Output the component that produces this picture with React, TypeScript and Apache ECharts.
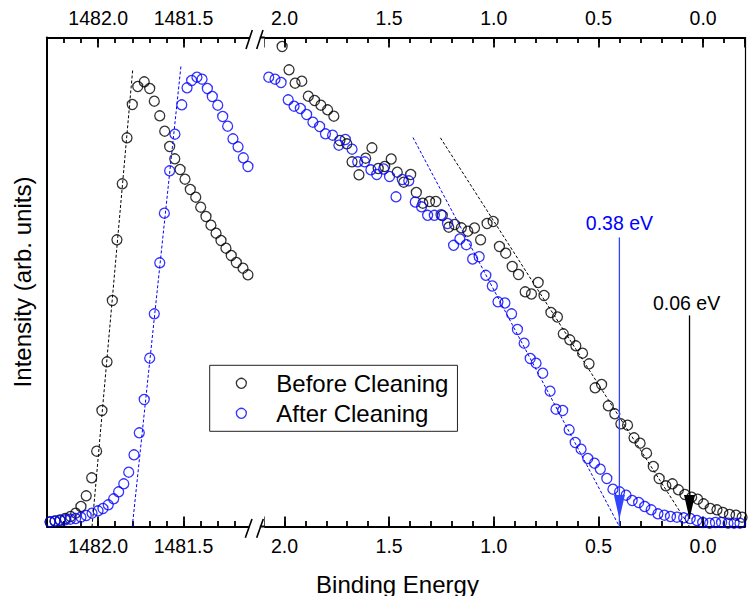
import React, { useEffect, useRef } from "react";
import * as echarts from "echarts";

const FONT = "'Liberation Sans', Arial, Helvetica, sans-serif";
const BLACK = "#000000";
const BLUE = "#0000ff";
const BLUE_ARROW = "#3344ff";

// ---- Left panel (photon-energy scale near 1482 eV) ----
const beforeCoreEnergy = [1482.282, 1482.253, 1482.224, 1482.193, 1482.162, 1482.132, 1482.101, 1482.07, 1482.038, 1482.009, 1481.978, 1481.948, 1481.917, 1481.89, 1481.859, 1481.831, 1481.8, 1481.768, 1481.73, 1481.698, 1481.671, 1481.639, 1481.61, 1481.581, 1481.551, 1481.52, 1481.491, 1481.46, 1481.428, 1481.399, 1481.368, 1481.339, 1481.309, 1481.28, 1481.251, 1481.22, 1481.19, 1481.151, 1481.122];
const beforeCoreIntensity = [4.5, 5.5, 6.5, 8, 10, 13.3, 20, 30.7, 48.7, 75.3, 116, 164.7, 226, 286.7, 342.7, 388.7, 422, 440, 444.7, 438, 425.3, 410.7, 395.3, 380, 367.7, 357, 347.3, 337, 329.3, 319.3, 310, 301.3, 293.3, 286, 278.3, 271, 264, 258.3, 251.7];

const afterCoreEnergy = [1482.281, 1482.253, 1482.222, 1482.193, 1482.163, 1482.132, 1482.101, 1482.07, 1482.036, 1482.001, 1481.972, 1481.941, 1481.909, 1481.88, 1481.85, 1481.821, 1481.79, 1481.759, 1481.73, 1481.698, 1481.671, 1481.639, 1481.612, 1481.581, 1481.55, 1481.51, 1481.479, 1481.452, 1481.421, 1481.391, 1481.36, 1481.331, 1481.299, 1481.27, 1481.241, 1481.21, 1481.18, 1481.149, 1481.122];
const afterCoreIntensity = [4.7, 5.3, 6, 6.7, 7.3, 8, 9.3, 11, 13.3, 15.7, 18, 21.7, 27.7, 34.7, 42.7, 54.3, 71.7, 93.7, 127, 168.3, 212.7, 263.7, 313.3, 355.7, 392.3, 421.7, 438.7, 446, 449.3, 447.3, 438, 430, 421.3, 410, 400.3, 387.7, 379.7, 368.7, 360];

// ---- Right panel (binding energy, eV) ----
const beforeValenceEnergy = [2.011, 1.978, 1.949, 1.917, 1.886, 1.856, 1.826, 1.794, 1.764, 1.735, 1.702, 1.677, 1.644, 1.612, 1.582, 1.552, 1.521, 1.49, 1.461, 1.43, 1.397, 1.37, 1.339, 1.307, 1.277, 1.246, 1.215, 1.187, 1.155, 1.124, 1.092, 1.063, 1.032, 1.003, 0.973, 0.943, 0.912, 0.882, 0.85, 0.82, 0.788, 0.76, 0.727, 0.696, 0.668, 0.637, 0.608, 0.576, 0.545, 0.516, 0.485, 0.453, 0.422, 0.393, 0.361, 0.33, 0.301, 0.27, 0.238, 0.21, 0.178, 0.147, 0.118, 0.087, 0.055, 0.026, -0.002, -0.034, -0.066, -0.094, -0.126, -0.157, -0.186];
const beforeValenceIntensity = [480, 456.7, 443.3, 445.3, 430.3, 426, 421.3, 416.7, 410.3, 386, 382.7, 364.7, 351.7, 368.3, 378.7, 358, 360, 367.5, 354.3, 344.3, 352, 334, 323.3, 325, 325, 311, 299.3, 302, 298.7, 295.3, 298.5, 286.7, 303, 305, 280, 273.3, 260, 252, 234.7, 232.5, 244, 231, 214, 209.5, 192.7, 186.7, 180.7, 173.3, 162.7, 138.7, 142, 120.7, 112.7, 102.7, 101.3, 88.7, 83.3, 73.3, 60, 48, 40.7, 42.7, 36.7, 32, 29.3, 27.3, 22.7, 18, 16.7, 14, 12, 11.3, 9.3];

const afterValenceEnergy = [2.075, 2.045, 2.016, 1.982, 1.954, 1.924, 1.894, 1.864, 1.832, 1.804, 1.77, 1.74, 1.709, 1.677, 1.65, 1.617, 1.587, 1.559, 1.526, 1.498, 1.467, 1.437, 1.406, 1.375, 1.345, 1.316, 1.284, 1.252, 1.221, 1.192, 1.162, 1.131, 1.101, 1.07, 1.038, 1.007, 0.98, 0.947, 0.915, 0.887, 0.855, 0.826, 0.798, 0.766, 0.731, 0.703, 0.671, 0.64, 0.611, 0.583, 0.551, 0.519, 0.491, 0.46, 0.431, 0.399, 0.368, 0.339, 0.308, 0.279, 0.248, 0.216, 0.185, 0.156, 0.125, 0.093, 0.062, 0.03, 0.002, -0.031, -0.059, -0.088, -0.119, -0.148, -0.176];
const afterValenceIntensity = [449.3, 447.3, 444, 426.7, 420.3, 418, 412, 404.3, 400, 392.7, 391.3, 381.3, 387, 377.3, 364.7, 364.7, 356.7, 352, 357.5, 350, 329.7, 347, 345.7, 324.5, 319.7, 311.2, 311.2, 311.8, 303, 281.2, 287.5, 281.8, 267.5, 269.8, 251.2, 240.5, 224.7, 223.5, 212.7, 197, 183.3, 168, 163.3, 153.3, 135.3, 117.3, 116, 96.7, 84, 77.3, 68, 63.3, 57.3, 48, 37.3, 34.7, 31.3, 26, 24, 20, 16.7, 12.7, 11.3, 10, 9.3, 8.7, 8, 6, 4, 3.3, 4, 4, 3.3, 3.3, 3.3];

// ---- Linear edge fits (end points) ----
const beforeCoreFitEnergy = [1481.798, 1482.036];
const beforeCoreFitIntensity = [456, 0];
const afterCoreFitEnergy = [1481.515, 1481.8];
const afterCoreFitIntensity = [460, 0];
const beforeValenceFitEnergy = [1.255, 0.065];
const beforeValenceFitIntensity = [388.7, 0];
const afterValenceFitEnergy = [1.386, 0.4];
const afterValenceFitIntensity = [389, 0];

// ---- Edge markers ----
const afterEdge = 0.4;
const afterEdgeLabel = "0.38 eV";
const afterMarkerIntensity = [289, 7.5, 0];
const beforeEdge = 0.065;
const beforeEdgeLabel = "0.06 eV";
const beforeMarkerIntensity = [211, 7.5];

const legendNames = ["Before Cleaning", "After Cleaning"];

const zip = (xs: number[], ys: number[]) => xs.map((x, i) => [x, ys[i]]);

const majorLabel = (v: number) =>
  Math.abs(v * 2 - Math.round(v * 2)) < 1e-6 ? v.toFixed(1) : "";

function xMajor(gridIndex: number, position: string, min: number, max: number, splitNumber: number) {
  return {
    type: "value",
    gridIndex,
    position,
    min,
    max,
    inverse: true,
    splitNumber,
    axisLine: { show: true, onZero: false, lineStyle: { color: BLACK, width: 2 } },
    axisTick: { show: true, inside: true, length: 10, lineStyle: { color: BLACK, width: 1.8 } },
    axisLabel: {
      show: true,
      formatter: majorLabel,
      fontSize: 19.5,
      color: BLACK,
      fontFamily: FONT,
      margin: position === "top" ? 10 : 9,
    },
    splitLine: { show: false },
  };
}

function xMinor(gridIndex: number, position: string, min: number, max: number) {
  return {
    type: "value",
    gridIndex,
    position,
    min,
    max,
    inverse: true,
    interval: 0.1,
    axisLine: { show: false, onZero: false },
    axisTick: { show: true, inside: true, length: 5.5, lineStyle: { color: BLACK, width: 1.8 } },
    axisLabel: { show: false },
    splitLine: { show: false },
  };
}

function yAxisDef(gridIndex: number, position: string, width: number, named: boolean) {
  return {
    type: "value",
    gridIndex,
    position,
    min: 0,
    max: 489,
    axisLine: { show: true, onZero: false, lineStyle: { color: BLACK, width } },
    axisTick: { show: false },
    axisLabel: { show: false },
    splitLine: { show: false },
    name: named ? "Intensity (arb. units)" : "",
    nameLocation: "middle",
    nameGap: 13,
    nameTextStyle: { fontSize: 24, color: BLACK, fontFamily: FONT },
  };
}

const hollow = (color: string) => ({ color: "rgba(0,0,0,0)", borderColor: color, borderWidth: 1.3 });

function scatter(name: string, xi: number, yi: number, xs: number[], ys: number[], color: string) {
  return {
    type: "scatter",
    name,
    xAxisIndex: xi,
    yAxisIndex: yi,
    data: zip(xs, ys),
    symbol: "circle",
    symbolSize: 10,
    itemStyle: hollow(color),
    silent: true,
    z: 3,
  };
}

function fitLine(xi: number, yi: number, xs: number[], ys: number[], color: string) {
  return {
    type: "line",
    xAxisIndex: xi,
    yAxisIndex: yi,
    data: zip(xs, ys),
    symbol: "none",
    lineStyle: { color, width: 1, type: [3, 2] },
    silent: true,
    z: 4,
  };
}

function marker(xi: number, x: number, ys: number[], color: string, textColor: string, text: string, dist: number, dx: number) {
  const data = ys.map((y, i) => {
    if (i === 0) {
      return {
        value: [x, y],
        symbol: "circle",
        symbolSize: 0.5,
        label: {
          show: true,
          position: "top",
          distance: dist,
          offset: [dx, 0],
          formatter: text,
          fontSize: 19.5,
          color: textColor,
          fontFamily: FONT,
        },
      };
    }
    if (i === 1) {
      return {
        value: [x, y],
        symbol: "triangle",
        symbolSize: [11, 24],
        symbolRotate: 180,
        symbolOffset: [0, -12],
      };
    }
    return { value: [x, y], symbol: "none" };
  });
  return {
    type: "line",
    xAxisIndex: xi,
    yAxisIndex: 1,
    data,
    lineStyle: { color, width: 1.3 },
    itemStyle: { color, borderWidth: 0 },
    silent: true,
    z: 5,
  };
}

export default function App() {
  const ref = useRef<HTMLDivElement>(null);

  useEffect(() => {
    document.body.style.margin = "0";
    if (!ref.current) return;
    const chart = echarts.init(ref.current, undefined, { renderer: "svg" });

    const breakX1 = 249.3;
    const breakX2 = 264.3;
    const topY = 37.5;
    const botY = 526.5;

    const slash = (x1: number, y1: number, x2: number, y2: number) => ({
      type: "line",
      shape: { x1, y1, x2, y2 },
      style: { stroke: BLACK, lineWidth: 1.6 },
      z: 102,
    });

    // xAxis indices: 0 L-bottom, 1 L-top, 2 L-bottom minor, 3 L-top minor,
    //                4 R-bottom, 5 R-top, 6 R-bottom minor, 7 R-top minor
    const LX = 0;
    const RX = 4;

    chart.setOption({
      animation: false,
      backgroundColor: "#ffffff",
      grid: [
        { left: 47, top: topY, width: 204.7, height: 489 },
        { left: 263.5, top: topY, width: 483.9, height: 489 },
      ],
      xAxis: [
        xMajor(0, "bottom", 1481.1, 1482.3, 2),
        xMajor(0, "top", 1481.1, 1482.3, 2),
        xMinor(0, "bottom", 1481.1, 1482.3),
        xMinor(0, "top", 1481.1, 1482.3),
        xMajor(1, "bottom", -0.2, 2.1, 5),
        xMajor(1, "top", -0.2, 2.1, 5),
        xMinor(1, "bottom", -0.2, 2.1),
        xMinor(1, "top", -0.2, 2.1),
      ],
      yAxis: [yAxisDef(0, "left", 2, true), yAxisDef(1, "right", 1.2, false)],
      legend: {
        data: [
          { name: legendNames[0], icon: "circle", itemStyle: hollow(BLACK) },
          { name: legendNames[1], icon: "circle", itemStyle: hollow(BLUE) },
        ],
        orient: "vertical",
        left: 209.7,
        top: 365.3,
        itemWidth: 10,
        itemHeight: 10,
        itemGap: 4,
        padding: [5, 9, 5, 26],
        borderColor: "#222",
        borderWidth: 1,
        selectedMode: false,
        textStyle: { fontSize: 24, color: BLACK, fontFamily: FONT, lineHeight: 26, padding: [0, 0, 0, 25] },
      },
      series: [
        scatter(legendNames[0], LX, 0, beforeCoreEnergy, beforeCoreIntensity, BLACK),
        scatter(legendNames[1], LX, 0, afterCoreEnergy, afterCoreIntensity, BLUE),
        scatter(legendNames[0], RX, 1, beforeValenceEnergy, beforeValenceIntensity, BLACK),
        scatter(legendNames[1], RX, 1, afterValenceEnergy, afterValenceIntensity, BLUE),
        fitLine(LX, 0, beforeCoreFitEnergy, beforeCoreFitIntensity, BLACK),
        fitLine(LX, 0, afterCoreFitEnergy, afterCoreFitIntensity, BLUE),
        fitLine(RX, 1, beforeValenceFitEnergy, beforeValenceFitIntensity, BLACK),
        fitLine(RX, 1, afterValenceFitEnergy, afterValenceFitIntensity, BLUE),
        marker(RX, afterEdge, afterMarkerIntensity, BLUE_ARROW, BLUE, afterEdgeLabel, 4, 0),
        marker(RX, beforeEdge, beforeMarkerIntensity, BLACK, BLACK, beforeEdgeLabel, 2.5, -3),
      ],
      graphic: [
        {
          type: "text",
          x: 397.5,
          y: 584,
          style: {
            text: "Binding Energy",
            fontSize: 24,
            fontFamily: FONT,
            fill: BLACK,
            align: "center",
            verticalAlign: "middle",
          },
        },
        { type: "rect", shape: { x: breakX1, y: topY - 4, width: breakX2 - breakX1, height: 15 }, style: { fill: "#fff" }, z: 100 },
        { type: "rect", shape: { x: breakX1, y: botY - 11, width: breakX2 - breakX1, height: 15 }, style: { fill: "#fff" }, z: 100 },
        { type: "line", shape: { x1: 259.8, y1: topY, x2: breakX2 + 0.5, y2: topY }, style: { stroke: BLACK, lineWidth: 2 }, z: 101 },
        { type: "line", shape: { x1: 259.8, y1: botY, x2: breakX2 + 0.5, y2: botY }, style: { stroke: BLACK, lineWidth: 2 }, z: 101 },
        slash(246, 49, 252.3, 30),
        slash(256.7, 49, 263, 30),
        slash(245.3, 537.7, 252, 519),
        slash(256.7, 537.7, 263.3, 519),
      ],
    });

    return () => {
      chart.dispose();
    };
  }, []);

  return <div ref={ref} style={{ width: 748, height: 596 }} />;
}
